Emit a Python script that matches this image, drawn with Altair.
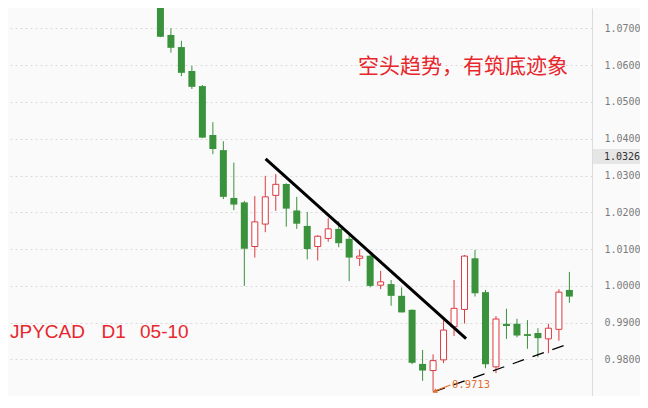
import altair as alt
import pandas as pd

# ---- data (JPYCAD daily candles) ----
idx = list(range(40))
opens = [1.0800, 1.0682, 1.0649, 1.0584, 1.0543, 1.0410, 1.0369, 1.0239, 1.0227, 1.0107,
         1.0168, 1.0246, 1.0277, 1.0205, 1.0163, 1.0107, 1.0129, 1.0155, 1.0128, 1.0075,
         1.0082, 1.0002, 1.0005, 0.9973, 0.9935, 0.9788, 0.9770, 0.9799, 0.9889, 0.9936,
         1.0075, 0.9983, 0.9780, 0.9897, 0.9897, 0.9869, 0.9872, 0.9856, 0.9882, 0.9989]
highs = [1.0815, 1.0700, 1.0666, 1.0598, 1.0546, 1.0445, 1.0393, 1.0335, 1.0231, 1.0244,
         1.0299, 1.0304, 1.0279, 1.0242, 1.0201, 1.0138, 1.0184, 1.0176, 1.0136, 1.0099,
         1.0085, 1.0041, 1.0016, 0.9996, 0.9936, 0.9826, 0.9814, 0.9907, 1.0016, 1.0084,
         1.0098, 0.9989, 0.9918, 0.9938, 0.9911, 0.9907, 0.9885, 0.9897, 0.9991, 1.0038]
lows = [1.0676, 1.0634, 1.0570, 1.0535, 1.0402, 1.0358, 1.0236, 1.0206, 1.0000, 1.0077,
        1.0146, 1.0204, 1.0161, 1.0155, 1.0072, 1.0069, 1.0120, 1.0105, 1.0013, 1.0054,
        0.9996, 0.9991, 0.9946, 0.9928, 0.9787, 0.9742, 0.9713, 0.9790, 0.9864, 0.9898,
        0.9971, 0.9776, 0.9763, 0.9856, 0.9860, 0.9829, 0.9806, 0.9817, 0.9851, 0.9954]
closes = [1.0677, 1.0647, 1.0579, 1.0541, 1.0403, 1.0372, 1.0242, 1.0221, 1.0101, 1.0174,
          1.0242, 1.0276, 1.0210, 1.0169, 1.0100, 1.0135, 1.0155, 1.0116, 1.0077, 1.0081,
          1.0000, 1.0011, 0.9973, 0.9928, 0.9791, 0.9770, 0.9797, 0.9880, 0.9939, 1.0081,
          0.9980, 0.9787, 0.9910, 0.9891, 0.9865, 0.9864, 0.9858, 0.9885, 0.9983, 0.9971]

tick_values = [0.98, 0.99, 1.00, 1.01, 1.02, 1.03, 1.04, 1.05, 1.06, 1.07]

# hand-drawn lines on the chart (index, price)
trend_i = [10.03, 29.15]
trend_p = [1.0345, 0.9857]
support_i = [26.05, 39.08]
support_p = [0.9712, 0.9844]

low_i = 26
low_p = 0.9713
low_text = "0.9713"
arrow_i = [26.1, 27.65]
arrow_p = [0.97135, 0.97307]

current_price_text = "1.0326"
title_cn = "空头趋势，有筑底迹象"

GREEN = "#3a923c"
RED = "#dc3a40"
TEXT_RED = "#e8262c"
ORANGE = "#e0702e"

df = pd.DataFrame(dict(i=idx, open=opens, high=highs, low=lows, close=closes))

x_scale = alt.Scale(domain=[-14.06, 40.68], nice=False, zero=False)
y_scale = alt.Scale(domain=[0.97008, 1.07552], nice=False, zero=False)
y_axis = alt.Axis(orient="right", values=tick_values, format=".4f", title=None,
                  ticks=False, tickSize=0, labelPadding=12, labelAlign="left",
                  labelFont="DejaVu Sans Mono", labelFontSize=10, labelColor="#7a7a7a",
                  domain=True, domainColor="#dcdcdc", domainWidth=1,
                  grid=True, gridColor="#dadada", gridDash=[2, 3], gridWidth=1)


def X(f):
    return alt.X(f, type="quantitative", scale=x_scale, axis=None, title=None)


def Y(f):
    return alt.Y(f, type="quantitative", scale=y_scale, axis=y_axis, title=None)


wicks = alt.Chart(df).mark_rule(strokeWidth=1, clip=True).encode(
    x=X("i"), y=Y("high"), y2="low",
    color=alt.condition("datum.close >= datum.open", alt.value(RED), alt.value(GREEN)),
)

down_bodies = alt.Chart(df).transform_filter("datum.close < datum.open").mark_bar(
    size=7, clip=True, color=GREEN
).encode(x=X("i"), y=Y("open"), y2="close")

up_bodies = alt.Chart(df).transform_filter("datum.close >= datum.open").mark_bar(
    size=6, clip=True, fill="white", stroke=RED, strokeWidth=1
).encode(x=X("i"), y=Y("open"), y2="close")

trend_df = pd.DataFrame({"i": trend_i, "p": trend_p})
trend = alt.Chart(trend_df).mark_line(color="black", strokeWidth=3, clip=True).encode(
    x=X("i"), y=Y("p"))

sup_df = pd.DataFrame({"i": support_i, "p": support_p})
support = alt.Chart(sup_df).mark_line(color="black", strokeWidth=1.3, strokeDash=[12, 9],
                                      clip=True).encode(x=X("i"), y=Y("p"))

arrow_df = pd.DataFrame({"i": arrow_i, "p": arrow_p})
arrow = alt.Chart(arrow_df).mark_line(color=ORANGE, strokeWidth=1.2).encode(
    x=X("i"), y=Y("p"))
head_df = pd.DataFrame({"i": [arrow_i[0] + 0.12], "p": [arrow_p[0] + 0.00002]})
arrow_head = alt.Chart(head_df).mark_point(shape="triangle", size=28, angle=246,
                                           filled=True, color=ORANGE, opacity=1).encode(
    x=X("i"), y=Y("p"))

low_df = pd.DataFrame({"i": [low_i], "p": [low_p], "t": [low_text]})
low_label = alt.Chart(low_df).mark_text(align="left", baseline="middle", dx=19, dy=-7,
                                        font="DejaVu Sans Mono", fontSize=10.5,
                                        color=ORANGE).encode(x=X("i"), y=Y("p"), text="t:N")

one = pd.DataFrame({"a": [0]})
cn_text = alt.Chart(one).mark_text(text=title_cn, align="left", baseline="middle",
                                   font="Noto Sans CJK SC", fontSize=21, color=TEXT_RED).encode(
    x=alt.value(350), y=alt.value(59))

sym1 = alt.Chart(one).mark_text(text="JPYCAD", align="left", baseline="alphabetic",
                                font="Liberation Sans", fontSize=19, color=TEXT_RED).encode(
    x=alt.value(2), y=alt.value(330))
sym2 = alt.Chart(one).mark_text(text="D1", align="left", baseline="alphabetic",
                                font="Liberation Sans", fontSize=19, color=TEXT_RED).encode(
    x=alt.value(93.5), y=alt.value(330))
sym3 = alt.Chart(one).mark_text(text="05-10", align="left", baseline="alphabetic",
                                font="Liberation Sans", fontSize=19, color=TEXT_RED).encode(
    x=alt.value(132), y=alt.value(330))

price_box = alt.Chart(one).mark_rect(color="#e6e6e6").encode(
    x=alt.value(585), x2=alt.value(632), y=alt.value(141), y2=alt.value(156))
price_text = alt.Chart(one).mark_text(text=current_price_text, align="left", baseline="middle",
                                      font="DejaVu Sans Mono", fontSize=10, color="#333333").encode(
    x=alt.value(596), y=alt.value(149))

chart = alt.layer(
    wicks, down_bodies, up_bodies, trend, support, arrow, arrow_head, low_label,
    cn_text, sym1, sym2, sym3, price_box, price_text
).properties(
    width=584, height=388,
    autosize=alt.AutoSizeParams(type="none"),
    padding={"left": 0, "top": 0, "right": 48, "bottom": 0},
    background="#fafafa",
).configure_view(stroke=None)

chart.save("out.html", embed_options={"renderer": "svg", "actions": False})
